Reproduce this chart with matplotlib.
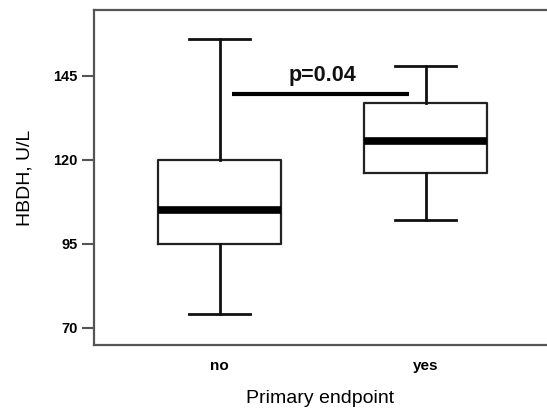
import matplotlib
matplotlib.use("Agg")
import matplotlib.pyplot as plt

categories = ["no", "yes"]
whisker_low = [74.0, 102.0]
q1 = [95.0, 116.0]
median = [105.0, 125.7]
q3 = [120.0, 137.0]
whisker_high = [156.0, 148.0]
p_text = "p=0.04"
p_level = 139.6
yticks = [70, 95, 120, 145]

plt.rcParams['font.family'] = ['Liberation Sans', 'DejaVu Sans']

fig = plt.figure(figsize=(5.47, 4.08), dpi=100)
ax = fig.add_axes([94/547, 1-345/408, 1-94/547, 335/408])

stats = []
for i, c in enumerate(categories):
    stats.append(dict(label=c, whislo=whisker_low[i], q1=q1[i], med=median[i],
                      q3=q3[i], whishi=whisker_high[i], fliers=[]))

positions = [1, 2]
ax.bxp(stats, positions=positions, widths=0.6, capwidths=0.3, showfliers=False,
       boxprops=dict(color='#222222', linewidth=1.6),
       whiskerprops=dict(color='#111111', linewidth=2.0),
       capprops=dict(color='#111111', linewidth=2.0),
       medianprops=dict(color='black', linewidth=5.5, solid_capstyle='butt'))

ax.plot([1.06, 1.92], [p_level, p_level], color='black', linewidth=3.0,
        solid_capstyle='butt')
ax.text(1.5, p_level + 2.3, p_text, ha='center', va='bottom', fontsize=15.5,
        fontweight='bold', color='#111111')

ax.set_xlim(0.39, 2.59)
ax.set_ylim(64.9, 164.6)
ax.set_yticks(yticks)
ax.set_yticklabels([str(t) for t in yticks], fontsize=10.5, fontweight='bold')
ax.set_xticks(positions)
ax.set_xticklabels(categories, fontsize=11, fontweight='bold')
ax.tick_params(axis='y', length=9, width=1.5, color='#555555', pad=3)
ax.tick_params(axis='x', length=0, pad=10)

for s in ['left', 'top', 'bottom']:
    ax.spines[s].set_color('#555555')
    ax.spines[s].set_linewidth(1.6)
ax.spines['right'].set_visible(False)

ax.set_ylabel("HBDH, U/L", fontsize=14, labelpad=14)
ax.set_xlabel("Primary endpoint", fontsize=14, labelpad=12)

fig.savefig("out.png", dpi=100)
